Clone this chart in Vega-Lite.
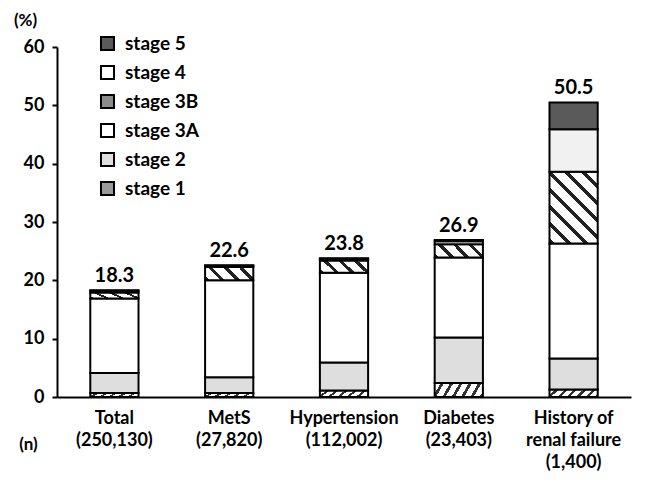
{
  "$schema": "https://vega.github.io/schema/vega-lite/v6.json",
  "autosize": {"type": "none"},
  "padding": {"left": 57, "top": 47, "right": 17, "bottom": 88},
  "width": 574,
  "height": 350,
  "background": "white",
  "config": {
    "font": "Lato",
    "view": {"stroke": null},
    "axis": {"grid": false, "domainColor": "black", "domainWidth": 2, "tickColor": "black", "tickWidth": 2, "labelColor": "black", "labelFont": "Lato", "labelFontWeight": "bold", "titleFont": "Lato", "titleFontWeight": "bold", "titleColor": "black"}
  },
  "layer": [
    {
      "data": {
        "values": [
          {"cat": "Total|(250,130)", "stage": "stage 1", "k": 1, "v": 0.7},
          {"cat": "Total|(250,130)", "stage": "stage 2", "k": 2, "v": 3.4},
          {"cat": "Total|(250,130)", "stage": "stage 3A", "k": 3, "v": 12.8},
          {"cat": "Total|(250,130)", "stage": "stage 3B", "k": 4, "v": 1.0},
          {"cat": "Total|(250,130)", "stage": "stage 4", "k": 5, "v": 0.3},
          {"cat": "Total|(250,130)", "stage": "stage 5", "k": 6, "v": 0.1},
          {"cat": "MetS|(27,820)", "stage": "stage 1", "k": 1, "v": 0.7},
          {"cat": "MetS|(27,820)", "stage": "stage 2", "k": 2, "v": 2.7},
          {"cat": "MetS|(27,820)", "stage": "stage 3A", "k": 3, "v": 16.6},
          {"cat": "MetS|(27,820)", "stage": "stage 3B", "k": 4, "v": 2.3},
          {"cat": "MetS|(27,820)", "stage": "stage 4", "k": 5, "v": 0.2},
          {"cat": "MetS|(27,820)", "stage": "stage 5", "k": 6, "v": 0.1},
          {"cat": "Hypertension|(112,002)", "stage": "stage 1", "k": 1, "v": 1.1},
          {"cat": "Hypertension|(112,002)", "stage": "stage 2", "k": 2, "v": 4.8},
          {"cat": "Hypertension|(112,002)", "stage": "stage 3A", "k": 3, "v": 15.4},
          {"cat": "Hypertension|(112,002)", "stage": "stage 3B", "k": 4, "v": 2.1},
          {"cat": "Hypertension|(112,002)", "stage": "stage 4", "k": 5, "v": 0.3},
          {"cat": "Hypertension|(112,002)", "stage": "stage 5", "k": 6, "v": 0.1},
          {"cat": "Diabetes|(23,403)", "stage": "stage 1", "k": 1, "v": 2.4},
          {"cat": "Diabetes|(23,403)", "stage": "stage 2", "k": 2, "v": 7.8},
          {"cat": "Diabetes|(23,403)", "stage": "stage 3A", "k": 3, "v": 13.7},
          {"cat": "Diabetes|(23,403)", "stage": "stage 3B", "k": 4, "v": 2.3},
          {"cat": "Diabetes|(23,403)", "stage": "stage 4", "k": 5, "v": 0.5},
          {"cat": "Diabetes|(23,403)", "stage": "stage 5", "k": 6, "v": 0.2},
          {"cat": "History of|renal failure|(1,400)", "stage": "stage 1", "k": 1, "v": 1.3},
          {"cat": "History of|renal failure|(1,400)", "stage": "stage 2", "k": 2, "v": 5.3},
          {"cat": "History of|renal failure|(1,400)", "stage": "stage 3A", "k": 3, "v": 19.7},
          {"cat": "History of|renal failure|(1,400)", "stage": "stage 3B", "k": 4, "v": 12.3},
          {"cat": "History of|renal failure|(1,400)", "stage": "stage 4", "k": 5, "v": 7.3},
          {"cat": "History of|renal failure|(1,400)", "stage": "stage 5", "k": 6, "v": 4.6}
        ]
      },
      "mark": {"type": "bar", "stroke": "black", "strokeWidth": 2},
      "encoding": {
        "x": {
          "field": "cat", "type": "nominal", "sort": null,
          "scale": {"paddingInner": 0.58, "paddingOuter": 0.29},
          "axis": {"title": "(n)", "titleFontSize": 17, "titleAngle": 0, "titleX": -29, "titleY": 47, "titleAlign": "center", "titleBaseline": "middle", "labelAngle": 0, "labelFontSize": 18, "labelLineHeight": 22, "labelPadding": 12, "ticks": false, "labelExpr": "split(datum.label, '|')"}
        },
        "y": {
          "field": "v", "type": "quantitative", "stack": "zero",
          "scale": {"domain": [0, 60], "nice": false},
          "axis": {"title": "(%)", "titleFontSize": 17, "titleAngle": 0, "titleX": -32, "titleY": -27, "titleAlign": "center", "titleBaseline": "middle", "values": [0, 10, 20, 30, 40, 50, 60], "tickSize": 5, "labelFontSize": 18, "labelPadding": 8}
        },
        "order": {"field": "k", "type": "quantitative", "sort": "ascending"},
        "fill": {
          "field": "stage", "type": "nominal",
          "condition": [
            {"test": "datum.stage === 'stage 3B' && indexof(datum.cat, 'History') === 0", "value": {"gradient": "linear", "x1": 0, "y1": 1, "x2": 0.769, "y2": -0.154, "stops": [
              {"offset": 0, "color": "#222"}, {"offset": 0.0429, "color": "#222"}, {"offset": 0.0429, "color": "#fff"}, {"offset": 0.1429, "color": "#fff"},
              {"offset": 0.1429, "color": "#222"}, {"offset": 0.1857, "color": "#222"}, {"offset": 0.1857, "color": "#fff"}, {"offset": 0.2857, "color": "#fff"},
              {"offset": 0.2857, "color": "#222"}, {"offset": 0.3286, "color": "#222"}, {"offset": 0.3286, "color": "#fff"}, {"offset": 0.4286, "color": "#fff"},
              {"offset": 0.4286, "color": "#222"}, {"offset": 0.4714, "color": "#222"}, {"offset": 0.4714, "color": "#fff"}, {"offset": 0.5714, "color": "#fff"},
              {"offset": 0.5714, "color": "#222"}, {"offset": 0.6143, "color": "#222"}, {"offset": 0.6143, "color": "#fff"}, {"offset": 0.7143, "color": "#fff"},
              {"offset": 0.7143, "color": "#222"}, {"offset": 0.7571, "color": "#222"}, {"offset": 0.7571, "color": "#fff"}, {"offset": 0.8571, "color": "#fff"},
              {"offset": 0.8571, "color": "#222"}, {"offset": 0.9, "color": "#222"}, {"offset": 0.9, "color": "#fff"}, {"offset": 1, "color": "#fff"}
            ]}},
            {"test": "datum.stage === 'stage 3B'", "value": {"gradient": "linear", "x1": 0, "y1": 1, "x2": 1.184, "y2": 0.679, "stops": [
              {"offset": 0, "color": "#222"}, {"offset": 0.075, "color": "#222"}, {"offset": 0.075, "color": "#fff"}, {"offset": 0.25, "color": "#fff"},
              {"offset": 0.25, "color": "#222"}, {"offset": 0.325, "color": "#222"}, {"offset": 0.325, "color": "#fff"}, {"offset": 0.5, "color": "#fff"},
              {"offset": 0.5, "color": "#222"}, {"offset": 0.575, "color": "#222"}, {"offset": 0.575, "color": "#fff"}, {"offset": 0.75, "color": "#fff"},
              {"offset": 0.75, "color": "#222"}, {"offset": 0.825, "color": "#222"}, {"offset": 0.825, "color": "#fff"}, {"offset": 1, "color": "#fff"}
            ]}},
            {"test": "datum.stage === 'stage 1'", "value": {"gradient": "linear", "x1": 0, "y1": 0, "x2": 1.135, "y2": 0.189, "stops": [
              {"offset": 0, "color": "#fff"}, {"offset": 0.1083, "color": "#fff"}, {"offset": 0.1083, "color": "#333"}, {"offset": 0.1667, "color": "#333"},
              {"offset": 0.1667, "color": "#fff"}, {"offset": 0.275, "color": "#fff"}, {"offset": 0.275, "color": "#333"}, {"offset": 0.3333, "color": "#333"},
              {"offset": 0.3333, "color": "#fff"}, {"offset": 0.4417, "color": "#fff"}, {"offset": 0.4417, "color": "#333"}, {"offset": 0.5, "color": "#333"},
              {"offset": 0.5, "color": "#fff"}, {"offset": 0.6083, "color": "#fff"}, {"offset": 0.6083, "color": "#333"}, {"offset": 0.6667, "color": "#333"},
              {"offset": 0.6667, "color": "#fff"}, {"offset": 0.775, "color": "#fff"}, {"offset": 0.775, "color": "#333"}, {"offset": 0.8333, "color": "#333"},
              {"offset": 0.8333, "color": "#fff"}, {"offset": 0.9417, "color": "#fff"}, {"offset": 0.9417, "color": "#333"}, {"offset": 1, "color": "#333"}
            ]}},
            {"test": "datum.stage === 'stage 4' && indexof(datum.cat, 'History') === 0", "value": "#f1f1f1"}
          ],
          "scale": {"domain": ["stage 5", "stage 4", "stage 3B", "stage 3A", "stage 2", "stage 1"], "range": ["#5a5a5a", "#ffffff", "#8c8c8c", "#ffffff", "#dedede", "#9a9a9a"]},
          "legend": {
            "title": null, "orient": "none", "legendX": 41, "legendY": -13, "padding": 0, "symbolType": "square", "symbolSize": 170, "symbolStrokeColor": "black", "symbolStrokeWidth": 2, "labelFontSize": 19, "labelFontWeight": "bold", "labelColor": "black", "labelFont": "Lato", "labelOffset": 8, "rowPadding": 6,
            "encoding": {
              "symbols": {
                "fill": {
                  "condition": [
                    {"test": "datum.value === 'stage 5'", "value": "#5a5a5a"},
                    {"test": "datum.value === 'stage 2'", "value": "#dedede"},
                    {"test": "datum.value === 'stage 3B'", "value": {"gradient": "linear", "x1": 0, "y1": 1, "x2": 1, "y2": 0, "stops": [
                      {"offset": 0, "color": "#fff"}, {"offset": 0.1083, "color": "#fff"}, {"offset": 0.1083, "color": "#222"}, {"offset": 0.225, "color": "#222"},
                      {"offset": 0.225, "color": "#fff"}, {"offset": 0.4417, "color": "#fff"}, {"offset": 0.4417, "color": "#222"}, {"offset": 0.5583, "color": "#222"},
                      {"offset": 0.5583, "color": "#fff"}, {"offset": 0.775, "color": "#fff"}, {"offset": 0.775, "color": "#222"}, {"offset": 0.8917, "color": "#222"},
                      {"offset": 0.8917, "color": "#fff"}, {"offset": 1, "color": "#fff"}
                    ]}},
                    {"test": "datum.value === 'stage 1'", "value": {"gradient": "linear", "x1": 0, "y1": 0, "x2": 1, "y2": 1, "stops": [
                      {"offset": 0, "color": "#fff"}, {"offset": 0.19, "color": "#fff"}, {"offset": 0.19, "color": "#333"}, {"offset": 0.31, "color": "#333"},
                      {"offset": 0.31, "color": "#fff"}, {"offset": 0.69, "color": "#fff"}, {"offset": 0.69, "color": "#333"}, {"offset": 0.81, "color": "#333"},
                      {"offset": 0.81, "color": "#fff"}, {"offset": 1, "color": "#fff"}
                    ]}}
                  ],
                  "value": "#ffffff"
                },
                "stroke": {"value": "black"},
                "strokeWidth": {"value": 2},
                "opacity": {"value": 1}
              }
            }
          }
        }
      }
    },
    {
      "data": {
        "values": [
          {"cat": "Total|(250,130)", "total": 18.3},
          {"cat": "MetS|(27,820)", "total": 22.6},
          {"cat": "Hypertension|(112,002)", "total": 23.8},
          {"cat": "Diabetes|(23,403)", "total": 26.9},
          {"cat": "History of|renal failure|(1,400)", "total": 50.5}
        ]
      },
      "mark": {"type": "text", "baseline": "bottom", "dy": -4, "fontSize": 20, "fontWeight": "bold", "color": "black"},
      "encoding": {
        "x": {"field": "cat", "type": "nominal", "sort": null},
        "y": {"field": "total", "type": "quantitative"},
        "text": {"field": "total", "type": "quantitative", "format": ".1f"}
      }
    }
  ]
}
